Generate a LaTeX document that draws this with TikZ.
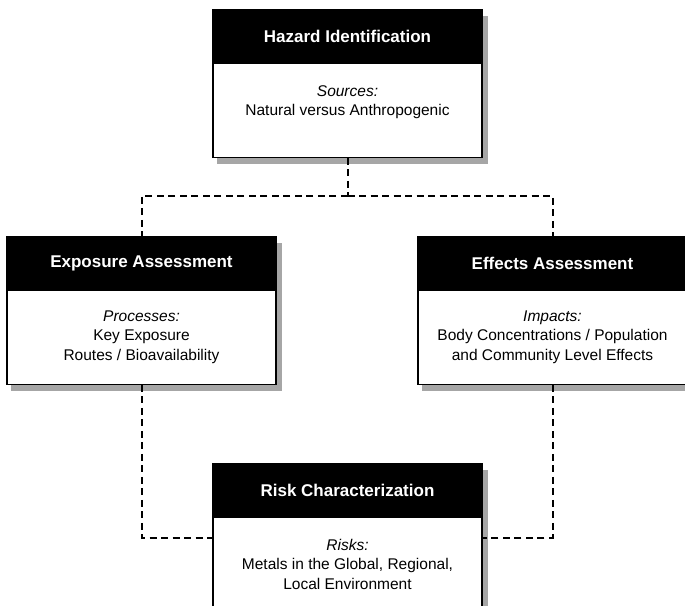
\documentclass[tikz,border=0pt]{standalone}
\usepackage{fontspec}
\setmainfont{Liberation Sans}
\usepackage{tikz}
\usetikzlibrary{positioning,fit,shadows,backgrounds}
\tikzset{
  headbox/.style={draw, fill=black, text=white, font=\fontsize{17}{20}\selectfont\bfseries, minimum width=269pt, minimum height=52pt, inner sep=0pt, line width=1.2pt},
  bodybox/.style={draw, fill=white, align=center, font=\fontsize{15.5}{19.5}\selectfont, minimum width=269pt, minimum height=94pt, inner sep=0pt, line width=1.2pt},
  boxshadow/.style={inner sep=0pt, drop shadow={shadow xshift=5pt, shadow yshift=-6.5pt, fill=black!35, opacity=1}},
  link/.style={dash pattern=on 7pt off 4.5pt, line width=2pt}
}

\begin{document}
\begin{tikzpicture}[x=1pt, y=1pt]
  \useasboundingbox (0,0) rectangle (685,-605);

  % boxes
  \node[headbox] (hazhead) at (347.5,-36) {Hazard Identification};
  \node[bodybox, below=0pt of hazhead] (hazbody) {\textit{Sources:}\\Natural versus Anthropogenic\\~};

  \node[headbox] (exphead) at (141.5,-263) {Exposure Assessment};
  \node[bodybox, below=0pt of exphead] (expbody) {\textit{Processes:}\\Key Exposure\\Routes / Bioavailability};

  \node[headbox] (effhead) at (552.5,-263) {Effects Assessment};
  \node[bodybox, below=0pt of effhead] (effbody) {\textit{Impacts:}\\Body Concentrations / Population\\and Community Level Effects};

  \node[headbox] (riskhead) at (347.5,-490) {Risk Characterization};
  \node[bodybox, below=0pt of riskhead] (riskbody) {\textit{Risks:}\\Metals in the Global, Regional,\\Local Environment};

  % shadows
  \begin{scope}[on background layer]
    \node[boxshadow, fit=(hazhead)(hazbody)] (haz) {};
    \node[boxshadow, fit=(exphead)(expbody)] (exp) {};
    \node[boxshadow, fit=(effhead)(effbody)] (eff) {};
    \node[boxshadow, fit=(riskhead)(riskbody)] (risk) {};
  \end{scope}

  % connectors
  \coordinate[below=38pt of hazbody.south] (split);
  \draw[link] (hazbody) -- (split);
  \draw[link] (split) -| (exphead);
  \draw[link] (split) -| (effhead);
  \draw[link] (expbody) |- (risk);
  \draw[link] (effbody) |- (risk);
\end{tikzpicture}
\end{document}
